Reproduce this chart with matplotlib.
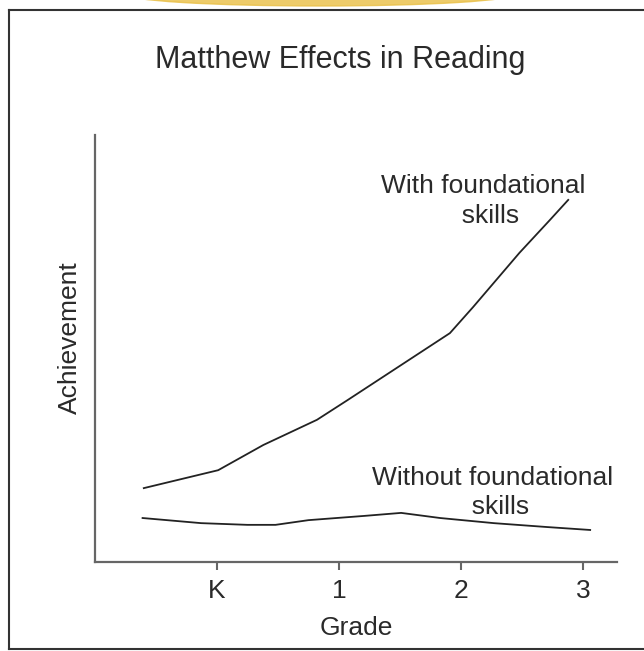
import matplotlib.pyplot as plt
from matplotlib.patches import Ellipse
from matplotlib.lines import Line2D

plt.rcParams['font.family'] = ['Liberation Sans', 'DejaVu Sans']

# grade positions (K = 0) and achievement (arbitrary 0-100 scale)
with_x = [-0.60, 0.01, 0.38, 0.82, 1.07, 1.91, 2.10, 2.48, 2.73, 2.88]
with_y = [17.3, 21.5, 27.4, 33.3, 37.9, 53.6, 59.7, 72.4, 80.1, 84.8]

without_x = [-0.61, -0.13, 0.25, 0.48, 0.75, 1.21, 1.51, 1.83, 2.27, 2.70, 3.06]
without_y = [10.3, 9.1, 8.7, 8.7, 9.8, 10.8, 11.5, 10.3, 9.1, 8.2, 7.5]

grades = [0, 1, 2, 3]
grade_labels = ["K", "1", "2", "3"]

W, H = 644, 651
fig = plt.figure(figsize=(W / 100, H / 100), dpi=100)

# gold band peeking in at the top, and the frame around the chart
fig.patches.append(Ellipse((320 / W, 1 + 6 / H), 390 / W, 24 / H,
                           transform=fig.transFigure, color="#e9bf45",
                           alpha=0.8, zorder=0))
frame = dict(transform=fig.transFigure, color="#333333", lw=1.5)
fig.lines.append(Line2D([9 / W, 1], [1 - 10 / H, 1 - 10 / H], **frame))
fig.lines.append(Line2D([9 / W, 9 / W], [1 - 10 / H, 1 - 649 / H], **frame))
fig.lines.append(Line2D([9 / W, 1], [1 - 649 / H, 1 - 649 / H], **frame))

ax = fig.add_axes([95 / W, 1 - 562 / H, (617 - 95) / W, (562 - 135) / H])
ax.plot(with_x, with_y, color="#222222", lw=1.3)
ax.plot(without_x, without_y, color="#222222", lw=1.3)

ax.set_xlim(-1.0, 3.28)
ax.set_ylim(0, 100)
for s in ["top", "right"]:
    ax.spines[s].set_visible(False)
for s in ["left", "bottom"]:
    ax.spines[s].set_color("#666666")
    ax.spines[s].set_linewidth(1.6)
ax.set_yticks([])
ax.set_xticks(grades)
ax.set_xticklabels(grade_labels)
ax.tick_params(axis="x", direction="out", length=6, width=1.5, color="#666666",
               labelsize=19, labelcolor="#2a2a2a", pad=6)

ax.text(2.18, 84.5, "With foundational\n  skills", ha="center", va="center",
        fontsize=19, color="#2a2a2a", linespacing=1.3)
ax.text(2.26, 16.3, "Without foundational\n  skills", ha="center", va="center",
        fontsize=19, color="#2a2a2a", linespacing=1.3)

fig.text(340 / W, 1 - 60 / H, "Matthew Effects in Reading", ha="center",
         va="center", fontsize=22, color="#2a2a2a")
fig.text(356 / W, 1 - 628 / H, "Grade", ha="center", va="center",
         fontsize=19, color="#2a2a2a")
fig.text(70 / W, 1 - 338 / H, "Achievement", ha="center", va="center",
         rotation=90, fontsize=19, color="#2a2a2a")

fig.savefig("out.png", dpi=100)
